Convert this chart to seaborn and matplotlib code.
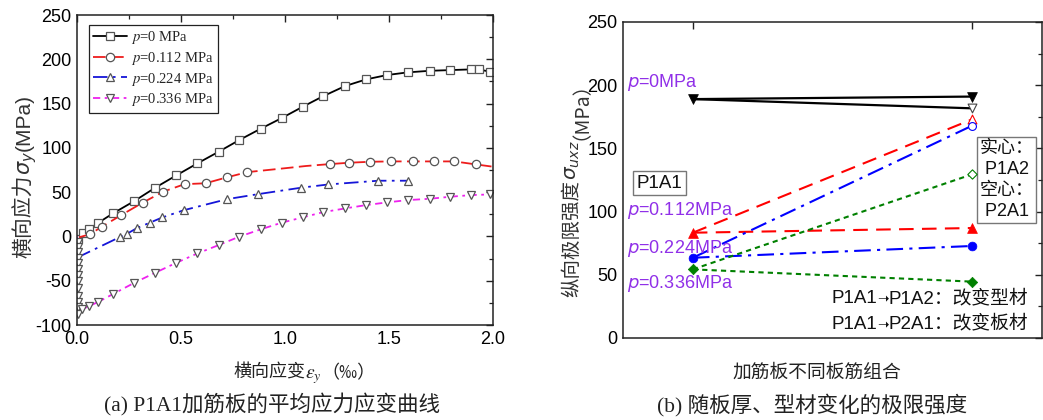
import matplotlib
matplotlib.use("Agg")
import matplotlib.pyplot as plt
import seaborn as sns
import pandas as pd
from matplotlib.ticker import MultipleLocator, NullFormatter
from matplotlib.lines import Line2D

# ---------------- data: panel (a) ----------------
x_p0 = [0.003, 0.029, 0.058, 0.103, 0.173, 0.276, 0.376, 0.478, 0.579, 0.681, 0.780, 0.883,
        0.984, 1.085, 1.185, 1.289, 1.390, 1.490, 1.589, 1.695, 1.795, 1.896, 1.931, 1.985]
y_p0 = [-3, 3.5, 8, 15.5, 26, 40, 55, 69, 82.5, 95.6, 108.8, 121.6,
        133.6, 146.4, 158.5, 169.8, 177.3, 182.2, 185.2, 187, 187.8, 188.6, 188.6, 186]

x_p112 = [0.01, 0.061, 0.120, 0.212, 0.315, 0.414, 0.517, 0.618, 0.719, 0.819, 1.0, 1.1,
          1.217, 1.308, 1.409, 1.510, 1.613, 1.714, 1.814, 1.918, 2.0]
y_p112 = [-1, 2.4, 11, 24, 38, 50.5, 59, 60, 66.6, 72.6, 77, 79.5,
          81.7, 83.2, 84.3, 84.7, 84.7, 84.7, 84.7, 81.3, 78.7]
mark_p112 = [1, 2, 3, 4, 5, 6, 7, 8, 9, 12, 13, 14, 15, 16, 17, 18, 19]

x_p224 = [0.0, 0.209, 0.238, 0.289, 0.350, 0.411, 0.515, 0.722, 0.872, 1.077, 1.209, 1.449, 1.589]
y_p224 = [-24, -0.4, 2.7, 9.5, 15.5, 21.5, 29.7, 42.1, 47.8, 55, 58.7, 62.9, 62.9]

x_p336 = [0.0, 0.003, 0.004, 0.004, 0.005, 0.005, 0.005, 0.006, 0.006, 0.006, 0.007, 0.007, 0.006, 0.004,
          0.022, 0.058, 0.103, 0.173, 0.276, 0.376, 0.478, 0.579, 0.681, 0.780, 0.883, 0.984,
          1.085, 1.185, 1.289, 1.390, 1.490, 1.589, 1.695, 1.795, 1.896, 1.987]
y_p336 = [0, -6, -12, -18, -24, -30, -37, -44, -50, -58, -67, -74, -80, -88,
          -82.4, -78.7, -73.8, -65.1, -52.3, -41, -29.7, -19.2, -9.8, -0.3, 8, 15.5,
          21.5, 27.5, 31.6, 35.4, 38.4, 41, 42.5, 44.8, 46.7, 47.4]

legend_labels = ["$p$=0 MPa", "$p$=0.112 MPa", "$p$=0.224 MPa", "$p$=0.336 MPa"]

# ---------------- data: panel (b) ----------------
pressure_labels = ["$p$=0MPa", "$p$=0.112MPa", "$p$=0.224MPa", "$p$=0.336MPa"]
pressure_label_y = [202.5, 101, 71, 43.5]
s_p1a1 = [189, 83.3, 63.5, 54.3]
s_p1a2 = [191, 87, 72.8, 44.6]     # filled markers (实心)
s_p2a1 = [181.7, 173, 168, 129.5]  # open markers (空心)
combo_x = [0, 1]
change_notes = [("P1A1", "P1A2：改变型材"), ("P1A1", "P2A1：改变板材")]

# ---------------- style ----------------
sns.set_theme(style="white")
plt.rcParams["font.family"] = ["Liberation Sans", "Noto Sans CJK SC", "DejaVu Sans"]
plt.rcParams["axes.unicode_minus"] = False
plt.rcParams["mathtext.fontset"] = "dejavusans"
plt.rcParams["axes.edgecolor"] = "#222222"
plt.rcParams["axes.linewidth"] = 1.1

CJK = ["Noto Sans CJK SC", "DejaVu Sans"]
MIX = ["Liberation Sans", "Noto Sans CJK SC", "DejaVu Sans"]

fig = plt.figure(figsize=(10.43, 4.2), dpi=100)
ax1 = fig.add_axes([77 / 1043, 95 / 420, 416 / 1043, 310 / 420])
ax2 = fig.add_axes([623 / 1043, 82 / 420, 419 / 1043, 316 / 420])


def chain_text(ax, pieces, x0, y0, vertical, color):
    """Draw a label made of several text pieces, each following the previous one."""
    prev = None
    for s, kw in pieces:
        if prev is None:
            xy, xyc = (x0, y0), "axes fraction"
        elif vertical:
            xy, xyc = (x0, 1.0), (ax.transAxes, prev)
        else:
            xy, xyc = (1.0, y0), (prev, ax.transAxes)
        prev = ax.annotate(s, xy=xy, xycoords=xyc, rotation=90 if vertical else 0,
                           rotation_mode="anchor", ha="left", va="baseline",
                           annotation_clip=False, color=color, **kw)
    return prev


# ---------------- panel (a) ----------------
mk = dict(mfc="white", mec="#555555", mew=0.9, ms=6)
curves = [
    (x_p0, y_p0, "black", "-", "s", None),
    (x_p112, y_p112, "#ee1c1c", (0, (7, 3)), "o", mark_p112),
    (x_p224, y_p224, "#1515d8", (0, (8, 3, 1.5, 3)), "^", list(range(1, len(x_p224)))),
    (x_p336, y_p336, "#ee22ee", (0, (4, 2.5, 1.5, 2.5)), "v", list(range(1, len(x_p336)))),
]
for xs, ys, col, ls, m, me in curves:
    df = pd.DataFrame({"x": xs, "y": ys})
    sns.lineplot(data=df, x="x", y="y", ax=ax1, color=col, linestyle=ls, lw=1.3,
                 sort=False, estimator=None, marker=m, markevery=me, **mk)

ax1.set_xlim(0, 2.0)
ax1.set_ylim(-100, 250)
ax1.xaxis.set_major_locator(MultipleLocator(0.5))
ax1.xaxis.set_minor_locator(MultipleLocator(0.25))
ax1.yaxis.set_major_locator(MultipleLocator(50))
ax1.yaxis.set_minor_locator(MultipleLocator(25))
ax1.xaxis.set_major_formatter(matplotlib.ticker.FormatStrFormatter("%.1f"))
ax1.set_xlabel("")
ax1.set_ylabel("")

handles = []
for (xs, ys, col, ls, m, me), lab in zip(curves, legend_labels):
    handles.append(Line2D([0], [0], color=col, linestyle=ls, lw=1.3, marker=m, **mk))
leg = ax1.legend(handles, legend_labels, loc="upper left", bbox_to_anchor=(0.029, 0.968),
                 borderaxespad=0, frameon=True, fancybox=False, edgecolor="#222222",
                 framealpha=1, prop={"family": "Liberation Serif", "size": 10.5},
                 handlelength=2.3, handletextpad=0.25, labelspacing=0.25, borderpad=0.3)
leg.get_frame().set_linewidth(0.9)
for t in leg.get_texts():
    t.set_math_fontfamily("stix")

# y label (a): 横向应力σy(MPa)
chain_text(ax1, [("横向应力", dict(family=CJK, fontsize=15)),
                 (r"$\sigma_y$", dict(fontsize=15, math_fontfamily="dejavusans")),
                 ("(MPa)", dict(family="Liberation Sans", fontsize=15))],
           -0.113, 0.215, True, "#333333")
# x label (a): 横向应变εy（‰）
chain_text(ax1, [("横向应变", dict(family=CJK, fontsize=13)),
                 (r"$\varepsilon_y$", dict(fontsize=14, math_fontfamily="stix")),
                 ("（‰）", dict(family=CJK, fontsize=13))],
           0.375, -0.171, False, "#222222")

# ---------------- panel (b) ----------------
colors_b = ["black", "#ff0000", "#0000ff", "#008000"]
styles_b = ["-", (0, (7, 4)), (0, (8, 3, 1.5, 3)), (0, (2.5, 2))]
markers_b = ["v", "^", "o", "D"]
msizes = [50, 50, 40, 28]
for i in range(4):
    for tgt in (s_p1a2, s_p2a1):
        seg = pd.DataFrame({"x": combo_x, "y": [s_p1a1[i], tgt[i]]})
        sns.lineplot(data=seg, x="x", y="y", ax=ax2, color=colors_b[i], linestyle=styles_b[i],
                     lw=1.6 if i == 0 else 1.5, estimator=None, sort=False)
    filled = pd.DataFrame({"x": combo_x, "y": [s_p1a1[i], s_p1a2[i]]})
    sns.scatterplot(data=filled, x="x", y="y", ax=ax2, marker=markers_b[i], s=msizes[i],
                    color=colors_b[i], edgecolor=colors_b[i], linewidth=0.5, zorder=5)
    opened = pd.DataFrame({"x": [1], "y": [s_p2a1[i]]})
    sns.scatterplot(data=opened, x="x", y="y", ax=ax2, marker=markers_b[i], s=msizes[i] * 0.8,
                    facecolor="white", edgecolor=colors_b[i] if i else "#444444",
                    linewidth=0.8, zorder=5)

ax2.set_xlim(-0.25, 1.25)
ax2.set_ylim(0, 250)
ax2.set_xticks(combo_x)
ax2.xaxis.set_major_formatter(NullFormatter())
ax2.yaxis.set_major_locator(MultipleLocator(50))
ax2.yaxis.set_minor_locator(MultipleLocator(25))
ax2.set_ylabel("")

purple = "#9030e8"
for lab, yy in zip(pressure_labels, pressure_label_y):
    ax2.text(-0.237, yy, lab, color=purple, fontsize=13, ha="left", va="center",
             math_fontfamily="dejavusans")

ax2.text(-0.118, 122.6, "P1A1", fontsize=13.5, ha="center", va="center", color="#111111",
         bbox=dict(boxstyle="square,pad=0.2", fc="white", ec="#777777", lw=1))
ax2.text(1.027, 125, "实心：\n P1A2\n空心：\n P2A1", fontsize=13, ha="left", va="center",
         color="#111111", linespacing=1.3,
         bbox=dict(boxstyle="square,pad=0.15", fc="white", ec="#777777", lw=1))
for (src, dst), yb in zip(change_notes, [0.111, 0.029]):
    chain_text(ax2, [(src, dict(family=MIX, fontsize=13.5)),
                     ("➝", dict(family=["DejaVu Sans"], fontsize=10)),
                     (dst, dict(family=MIX, fontsize=13.5))],
               0.497, yb, False, "#111111")

# y label (b): 纵向极限强度σuxz（MPa）
chain_text(ax2, [("纵向极限强度", dict(family=CJK, fontsize=14)),
                 (r"$\sigma_{uxz}$", dict(fontsize=14.5, math_fontfamily="dejavusans")),
                 ("（MPa）", dict(family=CJK, fontsize=14))],
           -0.11, 0.13, True, "#333333")
ax2.set_xlabel("加筋板不同板筋组合", fontsize=13.5, color="#222222", family=CJK)
ax2.xaxis.set_label_coords(0.462, -0.076)

for ax in (ax1, ax2):
    ax.tick_params(which="both", direction="in", top=True, right=True, colors="#222222",
                   labelcolor="black")
    ax.tick_params(which="major", length=5, width=1, labelsize=13, pad=4)
    ax.tick_params(which="minor", length=3, width=0.9)
    for s in ax.spines.values():
        s.set_visible(True)

# captions
cap_font = ["Liberation Serif", "Noto Sans CJK SC"]
fig.text(272 / 1043, 1 - 405 / 420, "(a) P1A1加筋板的平均应力应变曲线", fontsize=15.5,
         ha="center", va="center", family=cap_font, color="#222222")
fig.text(812 / 1043, 1 - 405 / 420, "(b) 随板厚、型材变化的极限强度", fontsize=15.5,
         ha="center", va="center", family=cap_font, color="#222222")

fig.savefig("out.png", dpi=100)
